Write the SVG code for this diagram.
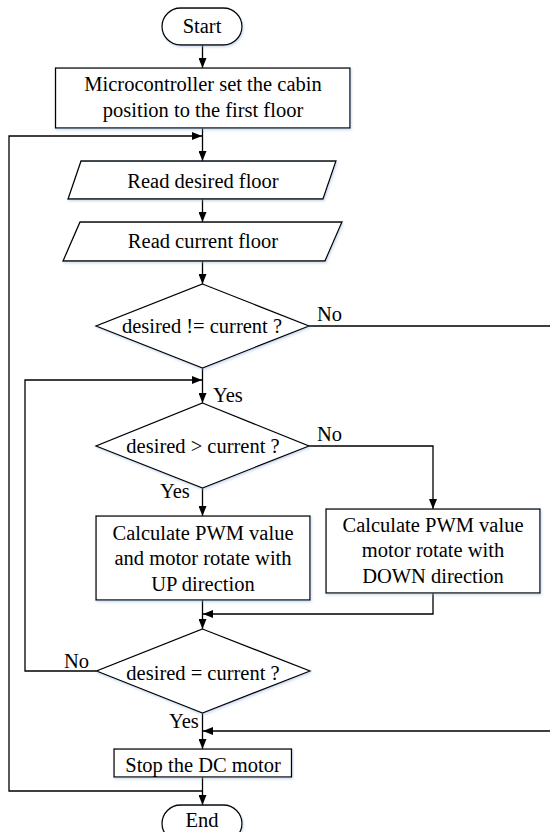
<svg xmlns="http://www.w3.org/2000/svg" width="550" height="832" viewBox="0 0 550 832">
<style>
.s{fill:#fff;stroke:#000;stroke-width:1.3;filter:url(#sh)}
.c{fill:none;stroke:#000;stroke-width:1.3}
text{font-family:"Liberation Serif","Times New Roman",serif;font-size:20.5px;fill:#000}
.m{text-anchor:middle}
</style>
<defs>
<filter id="sh" x="-10%" y="-10%" width="120%" height="130%">
<feDropShadow dx="1" dy="1.5" stdDeviation="1.2" flood-color="#8fb0d8" flood-opacity="0.45"/>
</filter>
<marker id="a" viewBox="0 0 10 8" refX="10" refY="4" markerWidth="10" markerHeight="8" markerUnits="userSpaceOnUse" orient="auto">
<path d="M0,0 L10,4 L0,8 Z" fill="#000"/>
</marker>
</defs>
<rect width="550" height="832" fill="#fff"/>
<g id="connectors">
<path class="c" d="M202.5,45 V68" marker-end="url(#a)"/>
<path class="c" d="M202.5,128 V161" marker-end="url(#a)"/>
<path class="c" d="M202.5,791 H9 V136 H202" marker-end="url(#a)"/>
<path class="c" d="M202.5,199 V222" marker-end="url(#a)"/>
<path class="c" d="M202.5,261 V284" marker-end="url(#a)"/>
<path class="c" d="M202.5,368 V403" marker-end="url(#a)"/>
<path class="c" d="M96.5,671 H25 V380 H202" marker-end="url(#a)"/>
<path class="c" d="M309,326 H553 V731 H203" marker-end="url(#a)"/>
<path class="c" d="M309,446 H433 V509" marker-end="url(#a)"/>
<path class="c" d="M202.5,488 V516" marker-end="url(#a)"/>
<path class="c" d="M202.5,600 V629" marker-end="url(#a)"/>
<path class="c" d="M433,593 V614 H203" marker-end="url(#a)"/>
<path class="c" d="M202.5,713 V749" marker-end="url(#a)"/>
<path class="c" d="M202.5,777 V805" marker-end="url(#a)"/>
<text x="317" y="321">No</text>
<text x="213" y="402">Yes</text>
<text x="317" y="441">No</text>
<text x="160" y="498">Yes</text>
<text x="64" y="668">No</text>
<text x="169" y="728">Yes</text>
</g>
<g id="start">
<rect class="s" x="162" y="8" width="80" height="37" rx="18.5"/>
<text class="m" x="202" y="33">Start</text>
</g>
<g id="init">
<rect class="s" x="55.5" y="68" width="294.5" height="60"/>
<text class="m" x="203" y="91">Microcontroller set the cabin</text>
<text class="m" x="203" y="117">position to the first floor</text>
</g>
<g id="read-desired">
<polygon class="s" points="81,161 336,161 323,199 68,199"/>
<text class="m" x="203" y="188">Read desired floor</text>
</g>
<g id="read-current">
<polygon class="s" points="80,222 342,222 325,261 63,261"/>
<text class="m" x="203" y="248">Read current floor</text>
</g>
<g id="dec-neq">
<polygon class="s" points="202.5,284 309,326 202.5,368 96,326"/>
<text class="m" x="202" y="333">desired != current ?</text>
</g>
<g id="dec-gt">
<polygon class="s" points="202.5,403 309,446 202.5,488 96,446"/>
<text class="m" x="203" y="453">desired &gt; current ?</text>
</g>
<g id="up">
<rect class="s" x="96" y="516" width="214" height="84"/>
<text class="m" x="203" y="540">Calculate PWM value</text>
<text class="m" x="203" y="565">and motor rotate with</text>
<text class="m" x="203" y="591">UP direction</text>
</g>
<g id="down">
<rect class="s" x="326" y="509" width="214" height="84"/>
<text class="m" x="433" y="532">Calculate PWM value</text>
<text class="m" x="433" y="557">motor rotate with</text>
<text class="m" x="433" y="583">DOWN direction</text>
</g>
<g id="dec-eq">
<polygon class="s" points="202.5,629 310,671 202.5,713 96.5,671"/>
<text class="m" x="203" y="680">desired = current ?</text>
</g>
<g id="stop">
<rect class="s" x="114" y="749" width="177.5" height="28"/>
<text class="m" x="203" y="772">Stop the DC motor</text>
</g>
<g id="end">
<rect class="s" x="162" y="805" width="80" height="37" rx="18.5"/>
<text class="m" x="202" y="827">End</text>
</g>
</svg>
